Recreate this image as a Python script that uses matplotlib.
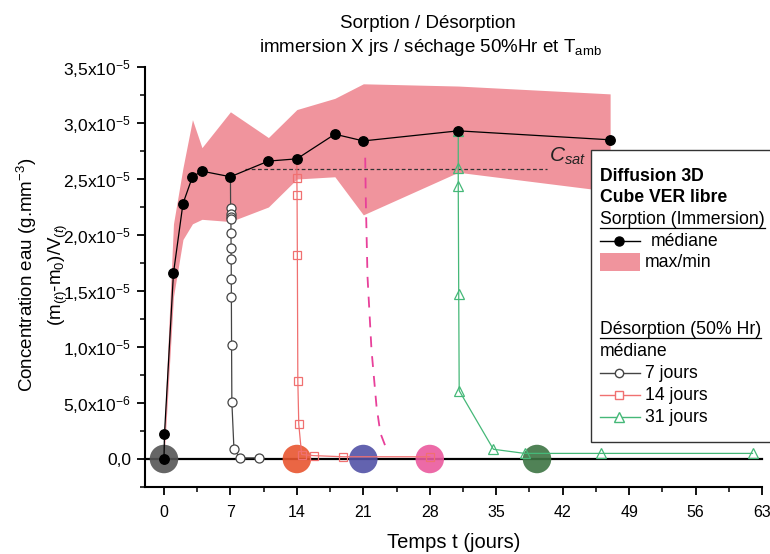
import matplotlib
matplotlib.use("Agg")
import matplotlib.pyplot as plt
from matplotlib.lines import Line2D
from matplotlib.patches import Rectangle
from matplotlib.ticker import MultipleLocator, FixedLocator, FixedFormatter

plt.rcParams['font.family'] = ['Liberation Sans', 'DejaVu Sans']
plt.rcParams['mathtext.fontset'] = 'custom'
plt.rcParams['mathtext.rm'] = 'Liberation Sans'
plt.rcParams['mathtext.it'] = 'Liberation Sans:italic'
plt.rcParams['mathtext.bf'] = 'Liberation Sans:bold'

# ---------------- data ----------------
# sorption median (days, g/mm3)
t_sorp = [0.0, 0.05, 1.0, 2.0, 3.0, 4.0, 7.0, 11.0, 14.0, 18.0, 21.0, 31.0, 47.0]
c_sorp = [0.0, 0.22e-5, 1.66e-5, 2.28e-5, 2.52e-5, 2.57e-5, 2.52e-5, 2.66e-5,
          2.68e-5, 2.90e-5, 2.84e-5, 2.93e-5, 2.85e-5]

# max/min envelope
t_band = [0.0, 1.0, 2.0, 3.0, 4.0, 7.0, 11.0, 14.0, 18.0, 21.0, 31.0, 47.0]
c_max = [0.22e-5, 2.10e-5, 2.60e-5, 3.03e-5, 2.78e-5, 3.10e-5, 2.87e-5, 3.12e-5,
         3.22e-5, 3.35e-5, 3.33e-5, 3.26e-5]
c_min = [0.0, 1.45e-5, 1.96e-5, 2.10e-5, 2.14e-5, 2.12e-5, 2.25e-5, 2.50e-5,
         2.52e-5, 2.18e-5, 2.56e-5, 2.39e-5]

# desorption 7 days
t_d7 = [7.0, 7.02, 7.03, 7.04, 7.05, 7.06, 7.07, 7.08, 7.09, 7.1, 7.12, 7.15, 7.37, 8.0, 10.0]
c_d7 = [2.52e-5, 2.245e-5, 2.19e-5, 2.165e-5, 2.147e-5, 2.02e-5, 1.887e-5, 1.789e-5,
        1.61e-5, 1.449e-5, 1.02e-5, 0.51e-5, 0.09e-5, 0.01e-5, 0.01e-5]

# desorption 14 days
t_d14 = [14.0, 14.0, 14.02, 14.05, 14.1, 14.2, 14.5, 15.8, 18.9, 28.0]
c_d14 = [2.68e-5, 2.51e-5, 2.36e-5, 1.82e-5, 0.70e-5, 0.31e-5, 0.04e-5, 0.03e-5,
         0.02e-5, 0.02e-5]

# desorption 21 days (projected, dashed)
t_d21 = [21.2, 21.26, 21.44, 21.86, 22.39, 22.8, 23.3, 23.5]
c_d21 = [2.69e-5, 2.32e-5, 1.63e-5, 0.975e-5, 0.47e-5, 0.23e-5, 0.12e-5, 0.09e-5]

# desorption 31 days
t_d31 = [31.0, 31.0, 31.0, 31.05, 31.1, 34.7, 38.0, 46.0, 62.0]
c_d31 = [2.93e-5, 2.60e-5, 2.44e-5, 1.47e-5, 0.61e-5, 0.087e-5, 0.05e-5, 0.05e-5, 0.05e-5]

# big coloured markers on the zero line
t_big = [0.0, 14.0, 21.0, 28.0, 39.3]
c_big = [0.0, 0.0, 0.0, 0.0, 0.0]
col_big = ['#555555', '#e8552f', '#5252a6', '#ea5a9e', '#3d7443']

csat = 2.585e-5
t_csat = [8.5, 40.3]

xticks = [0, 7, 14, 21, 28, 35, 42, 49, 56, 63]
yticks = [0.0, 0.5e-5, 1.0e-5, 1.5e-5, 2.0e-5, 2.5e-5, 3.0e-5, 3.5e-5]
ylabels = ['0,0', '5,0x10$^{-6}$', '1,0x10$^{-5}$', '1,5x10$^{-5}$', '2,0x10$^{-5}$',
           '2,5x10$^{-5}$', '3,0x10$^{-5}$', '3,5x10$^{-5}$']

# ---------------- figure ----------------
W, H = 770, 554
fig = plt.figure(figsize=(W / 100, H / 100), dpi=100)


def fx(x):
    return x / W


def fy(y):
    return 1 - y / H


ax = fig.add_axes([fx(145), fy(487), (762 - 145) / W, (487 - 67) / H])
ax.set_xlim(-2.0, 63.0)
ax.set_ylim(-0.25e-5, 3.5e-5)

band_col = '#f0949d'
ax.fill_between(t_band, c_min, c_max, color=band_col, lw=0, zorder=1)
ax.plot(t_csat, [csat, csat], ls=(0, (3, 2)), color='#333333', lw=0.9, zorder=2)
ax.text(40.6, csat + 0.02e-5, r'$C_{sat}$', fontsize=15, color='#222222',
        ha='left', va='bottom', zorder=3)

ax.axhline(0, color='black', lw=1.6, zorder=2, clip_on=False)

ax.scatter(t_big, c_big, s=(28.5 * 0.72) ** 2, c=col_big, alpha=0.9, lw=0, zorder=3)

c7 = '#444444'
c14 = '#f07070'
c31 = '#45b878'
c21 = '#e8409a'

ax.plot(t_d7, c_d7, '-', color=c7, lw=0.9, zorder=4)
ax.plot(t_d7[1:], c_d7[1:], 'o', mfc='white', mec=c7, mew=0.9, ms=6.5, zorder=5)
ax.plot(t_d14, c_d14, '-', color=c14, lw=0.9, zorder=4)
ax.plot(t_d14[1:], c_d14[1:], 's', mfc='none', mec=c14, mew=0.9, ms=6, zorder=5)
ax.plot(t_d21, c_d21, ls=(0, (6, 5)), color=c21, lw=1.3, zorder=4)
ax.plot(t_d31, c_d31, '-', color=c31, lw=0.9, zorder=4)
ax.plot(t_d31, c_d31, '^', mfc='none', mec=c31, mew=0.9, ms=7.5, zorder=5)

ax.plot(t_sorp, c_sorp, '-', color='black', lw=0.9, zorder=6)
ax.plot(t_sorp, c_sorp, 'o', color='black', ms=6.8, zorder=7)

# axes styling
for s in ['top', 'right']:
    ax.spines[s].set_visible(False)
for s in ['left', 'bottom']:
    ax.spines[s].set_linewidth(1.5)
ax.xaxis.set_major_locator(FixedLocator(xticks))
ax.set_xticklabels([str(v) for v in xticks])
ax.xaxis.set_minor_locator(MultipleLocator(3.5))
ax.yaxis.set_major_locator(FixedLocator(yticks))
ax.yaxis.set_major_formatter(FixedFormatter(ylabels))
ax.yaxis.set_minor_locator(MultipleLocator(0.25e-5))
ax.tick_params(axis='both', which='major', direction='out', length=6, width=1.3, pad=4)
ax.tick_params(axis='both', which='minor', direction='out', length=3.5, width=1.1)
ax.tick_params(axis='y', which='major', labelsize=12.5)
ax.tick_params(axis='x', which='major', labelsize=11.5, pad=7)

ax.set_xlabel('Temps t (jours)', fontsize=14.5, labelpad=9)

fig.text(fx(27), fy(275), 'Concentration eau (g.mm$^{-3}$)', rotation=90,
         ha='center', va='center', fontsize=13.5)
fig.text(fx(58), fy(275), '(m$_{(t)}$-m$_0$)/V$_{(t)}$', rotation=90,
         ha='center', va='center', fontsize=13.5)

fig.text(fx(428), fy(23), 'Sorption / Désorption', ha='center', va='center', fontsize=13.5)
fig.text(fx(430), fy(48), r'immersion X jrs / séchage 50%Hr et T$_{\mathrm{amb}}$',
         ha='center', va='center', fontsize=13.5)

# ---------------- custom legend ----------------
fig.patches.append(Rectangle((fx(591), fy(442)), 200 / W, (442 - 150) / H,
                             transform=fig.transFigure, fill=True, fc='white',
                             ec='#333333', lw=1.0, zorder=10))
fs = 12.7
lx = 600
fig.text(fx(lx), fy(176), 'Diffusion 3D', fontweight='bold', fontsize=fs,
         va='center', ha='left', zorder=11)
fig.text(fx(lx), fy(198), 'Cube VER libre', fontweight='bold', fontsize=fs,
         va='center', ha='left', zorder=11)
u1 = fig.text(fx(lx), fy(219), 'Sorption (Immersion)', fontsize=fs, va='center',
              ha='left', zorder=11)
u2 = fig.text(fx(lx), fy(329), 'Désorption (50% Hr)', fontsize=fs, va='center',
              ha='left', zorder=11)
fig.text(fx(lx), fy(351), 'médiane', fontsize=fs, va='center', ha='left', zorder=11)


def handle(y, color, marker, mfc, ms, label, tx=45):
    fig.lines.append(Line2D([fx(lx), fx(lx + 40)], [fy(y), fy(y)], color=color, lw=1.0,
                            transform=fig.transFigure, zorder=11))
    fig.lines.append(Line2D([fx(lx + 19)], [fy(y)], color=color, marker=marker, mfc=mfc,
                            mec=color, ms=ms, lw=0, transform=fig.transFigure, zorder=12))
    fig.text(fx(lx + tx), fy(y), label, fontsize=fs, va='center', ha='left', zorder=11)


handle(241, 'black', 'o', 'black', 6.5, 'médiane', tx=51)
fig.patches.append(Rectangle((fx(lx), fy(271)), 40 / W, 18 / H, transform=fig.transFigure,
                             fc=band_col, ec='none', zorder=11))
fig.text(fx(lx + 45), fy(262), 'max/min', fontsize=fs, va='center', ha='left', zorder=11)
handle(373, c7, 'o', 'white', 6, '7 jours')
handle(395, c14, 's', 'white', 6, '14 jours')
handle(417, c31, '^', 'white', 7, '31 jours')

fig.canvas.draw()
r = fig.canvas.get_renderer()
for t in (u1, u2):
    bb = t.get_window_extent(r)
    yb = bb.y0 - 0.5
    fig.lines.append(Line2D([bb.x0 / W, bb.x1 / W], [yb / H, yb / H], color='black',
                            lw=0.9, transform=fig.transFigure, zorder=11))

fig.savefig('out.png', dpi=100)
